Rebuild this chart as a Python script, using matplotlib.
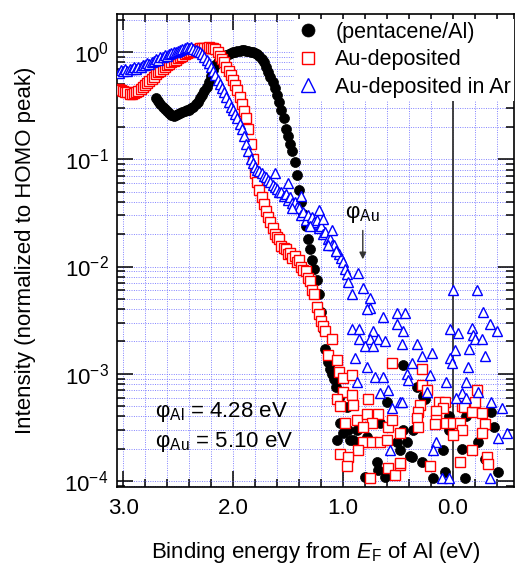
import numpy as np
import matplotlib.pyplot as plt
from matplotlib.ticker import MultipleLocator, LogLocator, FormatStrFormatter, NullFormatter

plt.rcParams['font.family'] = ['Liberation Sans', 'DejaVu Sans']
plt.rcParams['mathtext.fontset'] = 'custom'
plt.rcParams['mathtext.rm'] = 'Liberation Sans'
plt.rcParams['mathtext.it'] = 'Liberation Sans:italic'
plt.rcParams['axes.unicode_minus'] = False
fontsize = 16

# --- data (binding energy in eV, intensity normalised) ---
step = 0.02

# pentacene/Al : dense part starts at 2.70 eV
al_start = 2.70
al_dense = [0.37, 0.35, 0.33, 0.31, 0.295, 0.28, 0.27, 0.26, 0.255, 0.26,
            0.265, 0.27, 0.275, 0.28, 0.285, 0.29, 0.30, 0.31, 0.325, 0.34,
            0.37, 0.40, 0.43, 0.47, 0.53, 0.60, 0.68, 0.75, 0.80, 0.85,
            0.88, 0.91, 0.93, 0.95, 0.97, 0.99, 1.00, 1.02, 1.03, 1.04,
            1.04, 1.03, 1.02, 1.00, 0.99, 0.97, 0.95, 0.91, 0.86, 0.80,
            0.73, 0.65, 0.58, 0.52, 0.46, 0.40, 0.34, 0.29, 0.24, 0.19,
            0.165, 0.14, 0.12, 0.095, 0.072, 0.052, 0.040, 0.031, 0.024, 0.018,
            0.0145, 0.0115, 0.0095, 0.0075, 0.0055, 0.0038, 0.0026, 0.0017, 0.0013, 0.0011,
            0.0010, 0.0009, 0.00075, 0.0006]
al_noise_E = [1.01, 1.00, 0.95, 0.91, 0.96, 0.78, 0.80, 0.68, 0.62, 0.51,
              0.45, 0.42, 0.33, 0.27, 0.25, 0.36, 0.45, 0.48, 0.37, 0.28,
              0.18, 0.09, 0.07, 0.04, 0.04, -0.08, -0.11, -0.12, -0.25, -0.23,
              -0.29, -0.35, -0.37, -0.41, 1.05, 1.03, 0.94, 0.87, 0.85, 0.69,
              0.66, 0.60, 0.39]
al_noise_I = [0.00035, 0.00028, 0.00030, 0.00024, 0.00049, 0.00026, 0.00011, 0.000126, 0.00011, 0.00023,
              0.0012, 0.00023, 0.00076, 0.00062, 0.00058, 0.00030, 0.00030, 0.000195, 0.000166, 0.00015,
              0.000107, 0.000195, 0.000122, 0.00040, 0.00030, 0.00020, 0.000107, 0.00040, 0.00043, 0.00023,
              0.00016, 0.00044, 0.00032, 0.000122, 0.00024, 0.00035, 0.00024, 0.00030, 0.00023, 0.00015,
              0.00035, 0.00055, 0.00017]

# Au-deposited : dense part starts at 3.04 eV
au_start = 3.04
au_dense = [0.45, 0.44, 0.43, 0.425, 0.42, 0.41, 0.41, 0.415, 0.42, 0.43,
            0.45, 0.47, 0.49, 0.51, 0.54, 0.56, 0.59, 0.62, 0.65, 0.67,
            0.70, 0.72, 0.75, 0.77, 0.80, 0.82, 0.85, 0.87, 0.90, 0.92,
            0.95, 0.97, 0.99, 1.01, 1.03, 1.05, 1.06, 1.08, 1.09, 1.10,
            1.10, 1.11, 1.10, 1.09, 1.06, 1.00, 0.92, 0.86, 0.80, 0.73,
            0.67, 0.61, 0.55, 0.49, 0.44, 0.38, 0.33, 0.28, 0.24, 0.19,
            0.14, 0.10, 0.075, 0.062, 0.052, 0.044, 0.038, 0.033, 0.029, 0.026,
            0.023, 0.020, 0.019, 0.018, 0.0155, 0.015, 0.0145, 0.013, 0.0135, 0.012,
            0.0125, 0.011, 0.0115, 0.0098, 0.0092, 0.0090, 0.0078, 0.0074, 0.0060, 0.0055,
            0.0042, 0.0036, 0.0031, 0.0028, 0.0025]
au_noise_E = [1.14, 1.10, 1.05, 1.04, 1.00, 0.92, 1.00, 0.92, 1.05, 1.03,
              0.91, 0.77, 0.98, 0.87, 0.78, 0.68, 0.74, 0.82, 0.59, 0.55,
              0.82, 0.74, 0.66, 0.60, 0.86, 1.03, 0.95, 0.96, 0.75, 0.59,
              0.53, 0.48, 0.55, 0.48, 0.28, 0.28, 0.24, 0.30, 0.32, 0.33,
              0.32, 0.13, 0.07, 0.09, 0.15, 0.15, 0.16, 0.06, 0.00, -0.06,
              -0.08, 0.00, -0.08, -0.10, -0.17, -0.20, -0.22, -0.26, -0.29, -0.26,
              -0.17, -0.06, -0.31, -0.32, 0.21, 0.48]
au_noise_I = [0.0015, 0.0021, 0.00135, 0.00105, 0.00091, 0.00098, 0.00068, 0.00063, 0.00058, 0.00050,
              0.00051, 0.00058, 0.00035, 0.00037, 0.00042, 0.00042, 0.00035, 0.00032, 0.00032, 0.00037,
              0.00023, 0.00023, 0.00023, 0.00024, 0.000195, 0.00018, 0.000166, 0.000138, 0.000107, 0.000132,
              0.000115, 0.00014, 0.00126, 0.00028, 0.0011, 0.00079, 0.00070, 0.00051, 0.00044, 0.00039,
              0.00032, 0.00054, 0.00055, 0.00048, 0.00045, 0.00037, 0.00034, 0.00035, 0.00035, 0.00035,
              0.00030, 0.00027, 0.00050, 0.00049, 0.00044, 0.00054, 0.00070, 0.00043, 0.00034, 0.00028,
              0.000195, 0.00015, 0.000166, 0.000145, 0.000138, 0.000148]

# Au-deposited in Ar : dense part starts at 3.04 eV
ar_start = 3.04
ar_dense = [0.64, 0.68, 0.66, 0.69, 0.67, 0.70, 0.69, 0.72, 0.70, 0.73,
            0.73, 0.76, 0.75, 0.79, 0.78, 0.81, 0.82, 0.86, 0.85, 0.89,
            0.90, 0.93, 0.92, 0.96, 0.97, 1.00, 0.99, 1.03, 1.04, 1.07,
            1.08, 1.11, 1.10, 1.12, 1.07, 1.05, 1.03, 0.99, 0.95, 0.90,
            0.84, 0.79, 0.73, 0.67, 0.61, 0.55, 0.50, 0.46, 0.42, 0.38,
            0.34, 0.31, 0.29, 0.265, 0.24, 0.215, 0.19, 0.165, 0.14, 0.12,
            0.10, 0.092, 0.085, 0.080, 0.078, 0.074, 0.070, 0.068, 0.064, 0.062,
            0.058, 0.055, 0.053, 0.049, 0.050, 0.045, 0.047, 0.042, 0.044, 0.039,
            0.040, 0.036, 0.035, 0.030, 0.032, 0.027, 0.030, 0.025, 0.029, 0.026,
            0.027, 0.023, 0.024, 0.020, 0.021, 0.018, 0.018, 0.016, 0.016, 0.014,
            0.013, 0.012, 0.011, 0.0095, 0.0085]
ar_noise_E = [1.62, 1.50, 1.46, 1.38, 1.30, 1.22, 1.18, 1.14, 1.10, 1.06,
              0.95, 0.92, 0.86, 0.82, 0.75, 0.75, 0.78, 0.64, 0.51, 0.44,
              0.51, 0.92, 0.85, 0.73, 0.85, 0.75, 0.68, 0.62, 0.80, 0.73,
              0.46, 0.89, 0.78, 0.71, 0.64, 0.87, 0.66, 0.59, 0.48, 0.55,
              0.57, 0.45, 0.33, 0.37, 0.28, 0.19, 0.42, 0.41, 0.21, 0.24,
              0.46, 0.00, -0.22, -0.27, -0.34, -0.40, 0.03, -0.05, -0.17, -0.18,
              -0.20, -0.26, -0.15, -0.02, 0.03, 0.01, -0.29, -0.14, 0.06, -0.12,
              -0.23, -0.08, -0.03, -0.12, -0.35, -0.45, -0.41, -0.49, 0.15, 0.18,
              0.10, 0.04, -0.34]
ar_noise_I = [0.075, 0.060, 0.035, 0.045, 0.024, 0.034, 0.028, 0.016, 0.022, 0.014,
              0.0071, 0.0056, 0.0087, 0.0063, 0.0051, 0.0041, 0.0040, 0.0034, 0.0037, 0.0037,
              0.0029, 0.0026, 0.0026, 0.0025, 0.0021, 0.0021, 0.0021, 0.0020, 0.0018, 0.0018,
              0.0019, 0.0014, 0.00115, 0.00093, 0.00093, 0.00083, 0.00066, 0.00070, 0.00054, 0.00048,
              0.000195, 0.0025, 0.0019, 0.00126, 0.00145, 0.00155, 0.0010, 0.00087, 0.00098, 0.00068,
              0.00054, 0.0060, 0.0060, 0.0038, 0.0029, 0.0025, 0.0026, 0.0024, 0.0027, 0.0023,
              0.0021, 0.0021, 0.0017, 0.00166, 0.0014, 0.00126, 0.00145, 0.00115, 0.00083, 0.00083,
              0.00068, 0.00066, 0.00060, 0.00060, 0.00054, 0.00048, 0.00025, 0.00028, 0.00023, 0.000195,
              0.000107, 0.000107, 0.000107]

phi_al = 4.28
phi_au = 5.10


def spectrum(start, dense, noise_E, noise_I):
    E = np.round(start - step * np.arange(len(dense)), 2)
    return np.concatenate([E, noise_E]), np.concatenate([dense, noise_I])


fig = plt.figure(figsize=(5.15, 5.64), dpi=100)
ax = fig.add_axes([117 / 515, 1 - 487 / 564, 397 / 515, 473 / 564])
ax.set_yscale('log')

x, y = spectrum(al_start, al_dense, al_noise_E, al_noise_I)
ax.plot(x, y, 'o', color='k', ms=7.2, mec='k', mew=0.5, label='(pentacene/Al)', zorder=3)
x, y = spectrum(au_start, au_dense, au_noise_E, au_noise_I)
ax.plot(x, y, 's', mfc='white', mec='red', ms=6.5, mew=1.0, label='Au-deposited', zorder=4)
x, y = spectrum(ar_start, ar_dense, ar_noise_E, ar_noise_I)
ax.plot(x, y, '^', mfc='white', mec='blue', ms=7.5, mew=1.0, label='Au-deposited in Ar', zorder=5)

ax.axvline(0.0, color='#333333', lw=1.3, zorder=2)

ax.set_xlim(3.055, -0.555)
ax.set_ylim(8.8e-5, 2.26)
ax.xaxis.set_major_locator(MultipleLocator(1.0))
ax.xaxis.set_minor_locator(MultipleLocator(0.2))
ax.xaxis.set_major_formatter(FormatStrFormatter('%.1f'))
ax.yaxis.set_major_locator(LogLocator(base=10, numticks=10))
ax.yaxis.set_minor_locator(LogLocator(base=10, subs=np.arange(2, 10), numticks=20))
ax.yaxis.set_minor_formatter(NullFormatter())
ax.tick_params(which='both', direction='in', top=True, right=True, width=1.1, labelsize=fontsize)
ax.tick_params(which='major', length=11.5, pad=6)
ax.tick_params(which='minor', length=5.5)
ax.tick_params(axis='x', which='major', pad=8)
for s in ax.spines.values():
    s.set_linewidth(1.2)

ax.grid(which='both', color='#7070ff', linestyle=(0, (1, 1.6)), lw=0.65)
ax.set_axisbelow(True)

ax.text(2.71, 4.4e-4, r'φ$_{\mathrm{Al}}$ = %.2f eV' % phi_al, fontsize=fontsize, va='center', ha='left')
ax.text(2.71, 2.3e-4, r'φ$_{\mathrm{Au}}$ = %.2f eV' % phi_au, fontsize=fontsize, va='center', ha='left')

e_au = phi_au - phi_al
ax.text(e_au, 0.031, r'φ$_{\mathrm{Au}}$', fontsize=fontsize, ha='center', va='center')
ax.annotate('', xy=(e_au, 0.011), xytext=(e_au, 0.023),
            arrowprops=dict(arrowstyle='-|>', color='#333333', lw=1.0, mutation_scale=10))

leg = ax.legend(loc='upper left', bbox_to_anchor=(0.447, 0.99), fontsize=15.5,
                handlelength=1.0, handletextpad=0.75, labelspacing=0.3, borderpad=0.15,
                borderaxespad=0, markerscale=1.3, numpoints=1, frameon=True,
                fancybox=False, framealpha=1, facecolor='white', edgecolor='none')
leg.set_zorder(6)

ax.set_ylabel('Intensity (normalized to HOMO peak)', fontsize=fontsize)
ax.set_xlabel(r'Binding energy from $E_{\mathrm{F}}$ of Al (eV)', fontsize=fontsize)
ax.yaxis.set_label_coords(-0.205, 0.5)
ax.xaxis.set_label_coords(0.5, -0.112)

fig.savefig('out.png', dpi=100)
